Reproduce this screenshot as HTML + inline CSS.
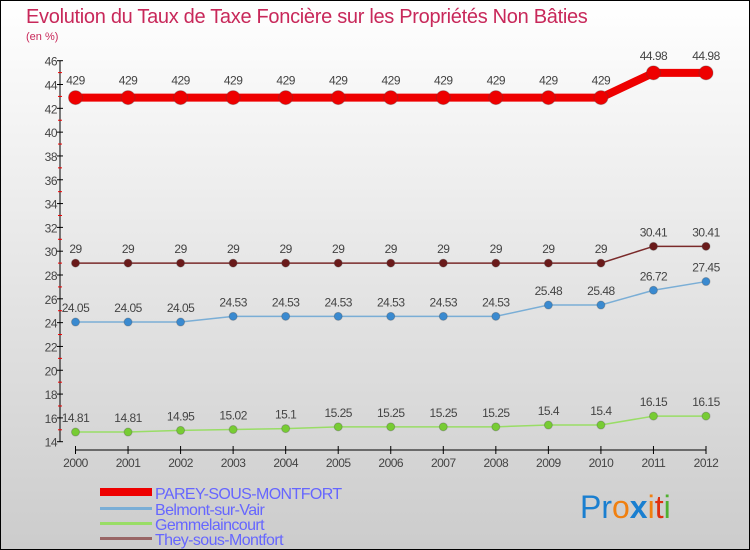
<!DOCTYPE html>
<html><head><meta charset="utf-8"><style>
body{margin:0;width:750px;height:550px;overflow:hidden;font-family:"Liberation Sans",sans-serif}
svg{display:block}
</style></head><body>
<svg id="chart" width="750" height="550" xmlns="http://www.w3.org/2000/svg">
<defs><linearGradient id="bg" x1="0" y1="0" x2="0" y2="1"><stop offset="0" stop-color="#ffffff"/><stop offset="1" stop-color="#cccccc"/></linearGradient></defs>
<rect x="0.5" y="0.5" width="749" height="549" fill="url(#bg)" stroke="#000"/>
<text x="26" y="23" font-size="20" fill="#c8285a" letter-spacing="-0.3">Evolution du Taux de Taxe Foncière sur les Propriétés Non Bâties</text>
<text x="26" y="40" font-size="11" fill="#c8285a">(en %)</text>
<g id="axes"></g>
<g id="series"></g>
<g>
<rect x="100" y="488" width="52" height="8" fill="#e00"/>
<text x="155" y="499" font-size="16" fill="#6666ff" letter-spacing="-0.6">PAREY-SOUS-MONTFORT</text>
<rect x="100" y="507" width="52" height="3" fill="#7aaed6"/>
<text x="155" y="515" font-size="16" fill="#6666ff" letter-spacing="-0.6">Belmont-sur-Vair</text>
<rect x="100" y="522" width="52" height="3" fill="#99dd66"/>
<text x="155" y="530" font-size="16" fill="#6666ff" letter-spacing="-0.6">Gemmelaincourt</text>
<rect x="100" y="537" width="52" height="3" fill="#996666"/>
<text x="155" y="545" font-size="16" fill="#6666ff" letter-spacing="-0.6">They-sous-Montfort</text>
</g>
<g font-size="32">
<text x="580" y="518"><tspan fill="#1a7fd0">Pr</tspan><tspan fill="#f08010">o</tspan><tspan fill="#1a7fd0" font-weight="bold">x</tspan><tspan fill="#f08010">i</tspan><tspan fill="#e03010">t</tspan><tspan fill="#50b030">i</tspan></text>
</g>
</svg>
<script>
const years=[2000,2001,2002,2003,2004,2005,2006,2007,2008,2009,2010,2011,2012];
const parey=[42.9,42.9,42.9,42.9,42.9,42.9,42.9,42.9,42.9,42.9,42.9,44.98,44.98];
const pareyLabels=["429","429","429","429","429","429","429","429","429","429","429","44.98","44.98"];
const they=[29,29,29,29,29,29,29,29,29,29,29,30.41,30.41];
const belmont=[24.05,24.05,24.05,24.53,24.53,24.53,24.53,24.53,24.53,25.48,25.48,26.72,27.45];
const gemm=[14.81,14.81,14.95,15.02,15.1,15.25,15.25,15.25,15.25,15.4,15.4,16.15,16.15];
const yTicks=[14,16,18,20,22,24,26,28,30,32,34,36,38,40,42,44,46];
const NS="http://www.w3.org/2000/svg";
const X0=75.5,X1=706,Y0=441.7,Y1=60.7,YMIN=14,YMAX=46;
const xs=i=>X0+(X1-X0)*i/(years.length-1);
const ys=v=>Y0-(v-YMIN)/(YMAX-YMIN)*(Y0-Y1);
function mk(tag,attrs,parent){const e=document.createElementNS(NS,tag);for(const k in attrs)e.setAttribute(k,attrs[k]);parent.appendChild(e);return e;}
const axes=document.getElementById('axes');
let ya=mk('line',{x1:60,y1:Y1,x2:60,y2:Y0,stroke:'#000'},axes);


yTicks.forEach((t,i)=>{
  const y=ys(t);
  mk('line',{x1:57,y1:y,x2:63,y2:y,stroke:'#000'},axes);
  if(i<yTicks.length-1) mk('line',{x1:58,y1:ys(t+1),x2:62,y2:ys(t+1),stroke:'#e00'},axes);
  const tx=mk('text',{x:57,y:y+5,'font-size':12,fill:'#444','text-anchor':'end','letter-spacing':-0.5},axes);
  tx.textContent=t;
  
  
});
let xa=mk('line',{x1:X0,y1:450,x2:X1,y2:450,stroke:'#000'},axes);


years.forEach((yr,i)=>{
  const x=xs(i);
  mk('line',{x1:x,y1:446,x2:x,y2:454,stroke:'#000'},axes);
  const tx=mk('text',{x:x,y:467,'font-size':12,fill:'#444','text-anchor':'middle','letter-spacing':-0.5},axes);
  tx.textContent=yr;
  
  
});
const sg=document.getElementById('series');
function series(name,vals,labels,color,lw,r,dot){
  const g=mk('g',{},sg);
  
  
  const pl=mk('polyline',{points:vals.map((v,i)=>xs(i)+','+ys(v)).join(' '),fill:'none',stroke:color,'stroke-width':lw},g);
  
  
  vals.forEach((v,i)=>{
    const c=mk('circle',{cx:xs(i),cy:ys(v),r:r,fill:dot,stroke:'#444','stroke-opacity':0.3},g);
    
    
    const t=mk('text',{x:xs(i),y:ys(v)-r-6,'font-size':12,fill:'#444','text-anchor':'middle','letter-spacing':-0.5},g);
    t.textContent=labels?labels[i]:String(v);
    
    
  });
}
series('series-parey',parey,pareyLabels,'#e00',8,7,'#e00');
series('series-they',they,null,'#7a2a2a',1.5,4,'#6a1a1a');
series('series-belmont',belmont,null,'#7aaed6',1.5,4,'#3a8ad0');
series('series-gemmelaincourt',gemm,null,'#99dd66',1.5,4,'#77cc33');
</script>
</body></html>
